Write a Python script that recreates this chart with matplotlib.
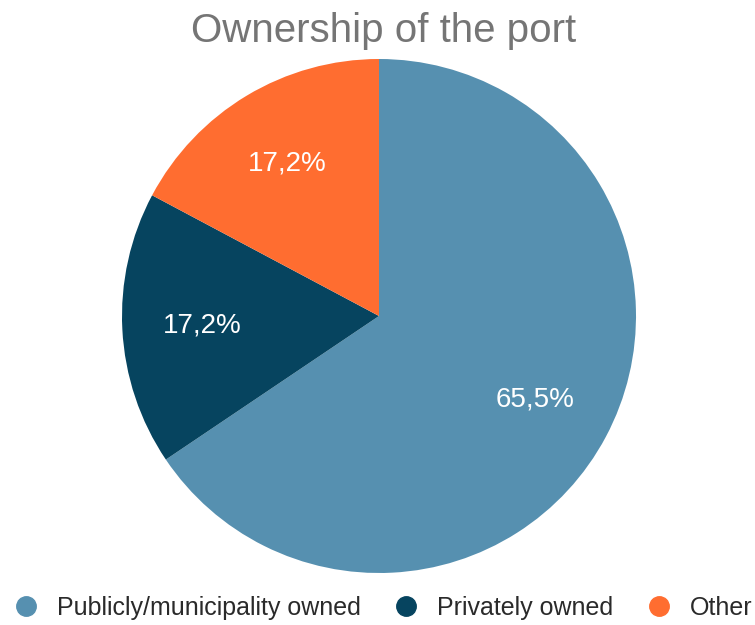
import matplotlib.pyplot as plt
from matplotlib.lines import Line2D

plt.rcParams['font.family'] = ['Liberation Sans', 'DejaVu Sans']

categories = ["Publicly/municipality owned", "Privately owned", "Other"]
shares = [65.5, 17.2, 17.2]
colors = ["#5690b0", "#06445f", "#ff6d30"]

fig = plt.figure(figsize=(7.55, 6.25), dpi=100)

# pie centred at (379, 316) px with radius 257 px
cx, cy, r = 379, 316, 257
ax = fig.add_axes([(cx - r) / 755, (625 - cy - r) / 625, 2 * r / 755, 2 * r / 625])

vals = iter(shares)
wedges, _, autotexts = ax.pie(
    shares, colors=colors, startangle=90, counterclock=False,
    autopct=lambda p: f"{next(vals):.1f}%".replace(".", ","),
    pctdistance=0.69, wedgeprops=dict(linewidth=0),
    textprops=dict(color="white", fontsize=20))
ax.set_xlim(-1, 1)
ax.set_ylim(-1, 1)
ax.axis("off")

fig.text(384 / 755, 1 - 31 / 625, "Ownership of the port", ha="center", va="center",
         fontsize=29, color="#757575")

handles = [Line2D([], [], marker="o", linestyle="", markersize=14,
                  markerfacecolor=c, markeredgecolor=c) for c in colors]
fig.legend(handles, categories, loc="center", ncol=3,
           bbox_to_anchor=(383 / 755, 1 - 608 / 625), frameon=False,
           fontsize=18, labelcolor="#2a2a2a", handletextpad=0.75,
           columnspacing=1.3, handlelength=1.0, borderaxespad=0)

fig.savefig("out.png", dpi=100)
